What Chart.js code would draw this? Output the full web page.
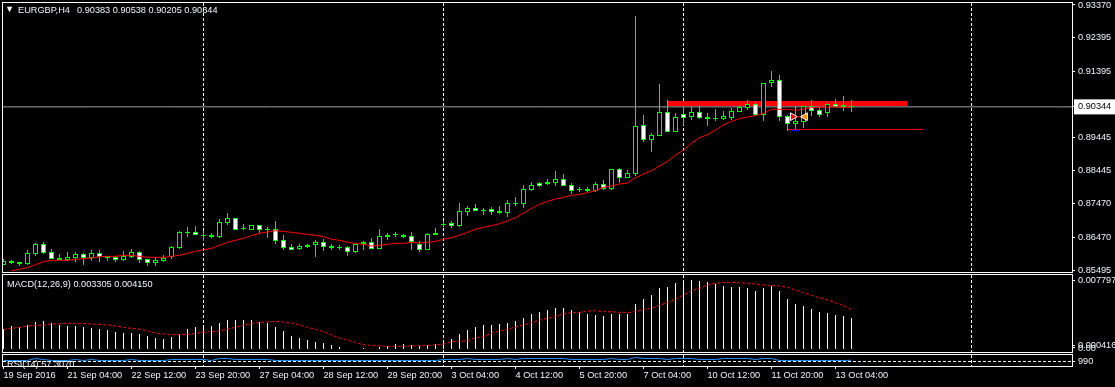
<!DOCTYPE html>
<html>
<head>
<meta charset="utf-8">
<title>EURGBP,H4</title>
<script src="https://cdn.jsdelivr.net/npm/chart.js@4/dist/chart.umd.min.js"></script>
<style>
    html, body { margin: 0; background: #000; overflow: hidden; }
    canvas { position: absolute; left: 0; }
</style>
</head>
<body>
<canvas id="mainChart" width="1115" height="273" style="top:0"></canvas>
<canvas id="macdChart" width="1115" height="80" style="top:273px"></canvas>
<canvas id="rsiChart" width="1115" height="47" style="top:340px"></canvas>
<script>
// EURGBP H4 candles, oldest first
const opens = [
    0.85657,0.85717,0.85677,0.85687,0.85984,0.86261,0.86024,0.85796,0.85796,0.85855,
    0.85964,0.85846,0.85994,0.85865,0.85895,0.85806,0.85895,0.86034,0.85826,0.85717,
    0.85776,0.85875,0.86152,0.86618,0.86618,0.86529,0.86479,0.86489,0.86905,0.87034,
    0.86717,0.86687,0.86826,0.86697,0.86707,0.86380,0.86172,0.86123,0.86182,0.86232,
    0.86321,0.86152,0.86172,0.86172,0.86034,0.86271,0.86321,0.86133,0.86489,0.86538,
    0.86489,0.86499,0.86271,0.86103,0.86548,0.86865,0.86885,0.86816,0.87231,0.87330,
    0.87271,0.87301,0.87192,0.87202,0.87469,0.87469,0.87875,0.88073,0.88053,0.88093,
    0.88192,0.88014,0.87865,0.87855,0.87855,0.88043,0.87915,0.88489,0.88241,0.88360,
    0.89796,0.89370,0.89489,0.90182,0.89607,0.90122,0.90033,0.90182,0.89984,0.89994,
    0.89994,0.90023,0.90202,0.90320,0.90419,0.90093,0.91043,0.91132,0.90063,0.89845,
    0.89904,0.90360,0.90241,0.90172,0.90419,0.90340,0.90383
];
const highs = [
    0.85816,0.85806,0.85727,0.86083,0.86311,0.86321,0.86113,0.85974,0.86034,0.86034,
    0.86004,0.86093,0.86093,0.85905,0.85915,0.86063,0.86123,0.86063,0.85826,0.85875,
    0.85944,0.86212,0.86657,0.86776,0.86806,0.86667,0.86598,0.87014,0.87192,0.87034,
    0.86865,0.86826,0.86826,0.86766,0.86954,0.86538,0.86261,0.86271,0.86271,0.86380,
    0.86420,0.86261,0.86232,0.86202,0.86261,0.86370,0.86449,0.86707,0.86588,0.86618,
    0.86578,0.86628,0.86370,0.86598,0.86736,0.86954,0.86944,0.87489,0.87390,0.87449,
    0.87340,0.87370,0.87400,0.87568,0.87667,0.88014,0.88103,0.88113,0.88202,0.88429,
    0.88350,0.88083,0.87964,0.87964,0.88113,0.88172,0.88489,0.88518,0.88459,0.93043,
    0.90103,0.89558,0.91023,0.90548,0.90152,0.90330,0.90330,0.90390,0.90152,0.90271,
    0.90211,0.90320,0.90390,0.90548,0.90479,0.91043,0.91409,0.91290,0.90103,0.90370,
    0.90360,0.90548,0.90350,0.90489,0.90578,0.90667,0.90538
];
const lows = [
    0.85657,0.85687,0.85618,0.85638,0.85915,0.85984,0.85816,0.85796,0.85776,0.85737,
    0.85647,0.85766,0.85737,0.85766,0.85737,0.85766,0.85865,0.85717,0.85618,0.85618,
    0.85747,0.85826,0.86123,0.86479,0.86538,0.86370,0.86440,0.86449,0.86835,0.86697,
    0.86687,0.86687,0.86588,0.86449,0.86271,0.86093,0.86093,0.86093,0.86152,0.85895,
    0.86073,0.86103,0.86103,0.85925,0.86014,0.86103,0.86133,0.86113,0.86390,0.86479,
    0.86449,0.86103,0.86044,0.86103,0.86548,0.86776,0.86746,0.86776,0.87103,0.87241,
    0.87142,0.87142,0.87172,0.87073,0.87400,0.87350,0.87835,0.87974,0.88014,0.88004,
    0.88004,0.87766,0.87816,0.87825,0.87825,0.87875,0.87875,0.88073,0.88241,0.88301,
    0.89301,0.89004,0.89489,0.89607,0.89607,0.89806,0.89954,0.89974,0.89776,0.89934,
    0.89954,0.89954,0.90202,0.90251,0.90063,0.89934,0.90944,0.89934,0.89637,0.89677,
    0.89716,0.90073,0.90053,0.90043,0.90350,0.90231,0.90205
];
const closes = [
    0.85756,0.85766,0.85727,0.85994,0.86261,0.86014,0.85836,0.85846,0.85875,0.85974,
    0.85846,0.85994,0.85875,0.85905,0.85806,0.85915,0.86024,0.85806,0.85717,0.85796,
    0.85855,0.86172,0.86618,0.86637,0.86548,0.86529,0.86538,0.86925,0.87034,0.86697,
    0.86737,0.86826,0.86697,0.86717,0.86370,0.86162,0.86103,0.86202,0.86232,0.86321,
    0.86192,0.86202,0.86172,0.86044,0.86261,0.86331,0.86133,0.86499,0.86538,0.86558,
    0.86538,0.86321,0.86103,0.86568,0.86588,0.86865,0.86816,0.87241,0.87330,0.87261,
    0.87271,0.87231,0.87251,0.87479,0.87489,0.87895,0.88014,0.88004,0.88113,0.88192,
    0.88004,0.87855,0.87915,0.87905,0.88043,0.87915,0.88489,0.88241,0.88370,0.89766,
    0.89370,0.89508,0.90182,0.89607,0.90033,0.90023,0.90182,0.90023,0.90043,0.90013,
    0.90063,0.90211,0.90330,0.90419,0.90093,0.91043,0.91132,0.90053,0.89845,0.89914,
    0.90360,0.90231,0.90112,0.90419,0.90350,0.90390,0.90344
];
// moving average, no value on the first bar
const maValues = [
    null,0.85479,0.85519,0.85568,0.85657,0.85747,0.85786,0.85786,0.85786,0.85816,
    0.85836,0.85855,0.85895,0.85905,0.85905,0.85935,0.85935,0.85905,0.85875,0.85875,
    0.85875,0.85905,0.85935,0.85994,0.86053,0.86103,0.86142,0.86232,0.86321,0.86380,
    0.86440,0.86519,0.86588,0.86628,0.86667,0.86647,0.86618,0.86588,0.86558,0.86529,
    0.86489,0.86410,0.86380,0.86321,0.86291,0.86261,0.86212,0.86232,0.86261,0.86291,
    0.86291,0.86321,0.86301,0.86321,0.86350,0.86410,0.86459,0.86529,0.86618,0.86707,
    0.86766,0.86816,0.86875,0.86954,0.87053,0.87192,0.87330,0.87449,0.87538,0.87608,
    0.87657,0.87717,0.87746,0.87796,0.87855,0.87954,0.87994,0.88053,0.88083,0.88241,
    0.88350,0.88449,0.88588,0.88726,0.88914,0.89063,0.89261,0.89429,0.89518,0.89657,
    0.89806,0.89914,0.89994,0.90043,0.90083,0.90152,0.90271,0.90271,0.90271,0.90241,
    0.90281,0.90320,0.90330,0.90340,0.90340,0.90330,0.90330
];
const macdHist = [
    0.002071,0.002422,0.002282,0.002527,0.002843,0.002948,0.002703,0.002562,0.002422,0.002422,
    0.002317,0.002211,0.002106,0.002001,0.001825,0.001685,0.001685,0.001580,0.001369,0.001193,
    0.001053,0.001264,0.001580,0.002106,0.002317,0.002527,0.002422,0.002738,0.003054,0.003054,
    0.003054,0.003054,0.002878,0.002738,0.002317,0.001895,0.001369,0.001158,0.000948,0.000737,
    0.000632,0.000421,0.000211,0,0,0.000140,0,0.000211,0.000281,0.000527,
    0.000527,0.000421,0.000316,0.000421,0.000527,0.000772,0.001053,0.001580,0.002001,0.002317,
    0.002527,0.002527,0.002633,0.002738,0.002948,0.003264,0.003686,0.003896,0.004107,0.004317,
    0.004317,0.004107,0.003896,0.003686,0.003580,0.003475,0.003686,0.003686,0.003686,0.004739,
    0.005265,0.005686,0.006423,0.006529,0.006950,0.007055,0.007266,0.007160,0.007055,0.006845,
    0.006634,0.006529,0.006529,0.006423,0.006107,0.006423,0.006634,0.006107,0.005265,0.004739,
    0.004528,0.004212,0.003896,0.003791,0.003580,0.003475,0.003305
];
const macdSignal = [
    0.002071,0.002176,0.002282,0.002422,0.002492,0.002527,0.002633,0.002668,0.002703,0.002703,
    0.002703,0.002633,0.002597,0.002527,0.002422,0.002282,0.002176,0.002106,0.001895,0.001685,
    0.001580,0.001509,0.001509,0.001544,0.001650,0.001755,0.001825,0.001895,0.002106,0.002282,
    0.002527,0.002703,0.002773,0.002878,0.002913,0.002843,0.002738,0.002527,0.002282,0.002071,
    0.001825,0.001474,0.001158,0.000948,0.000667,0.000456,0.000386,0.000351,0.000281,0.000281,
    0.000281,0.000316,0.000351,0.000386,0.000421,0.000527,0.000772,0.000807,0.000878,0.001193,
    0.001299,0.001650,0.001895,0.002071,0.002317,0.002527,0.002773,0.003054,0.003229,0.003405,
    0.003721,0.003826,0.003861,0.004001,0.004037,0.003931,0.003931,0.003861,0.003826,0.003931,
    0.004177,0.004282,0.004633,0.004879,0.005230,0.005686,0.006143,0.006388,0.006774,0.006915,
    0.007020,0.007020,0.006985,0.006915,0.006845,0.006739,0.006704,0.006634,0.006494,0.006213,
    0.005932,0.005651,0.005405,0.005160,0.004879,0.004598,0.004150
];
const rsiValues = [
    55,55,55,55,75,65,55,55,55,65,
    55,65,55,55,55,55,65,55,55,55,
    55,65,65,65,65,65,55,75,75,65,
    65,65,65,65,55,55,55,55,55,55,
    55,55,55,55,55,55,55,55,55,55,
    55,55,55,55,55,65,65,65,75,65,
    65,65,65,75,65,75,75,75,75,75,
    75,65,65,65,65,65,75,65,65,85,
    75,75,75,65,75,75,75,65,65,65,
    75,75,75,75,65,75,75,55,55,55,
    55,55,55,55,55,55,57.3
];

const priceTicks = [0.93370, 0.92395, 0.91395, 0.90344, 0.89445, 0.88445, 0.87470, 0.86470, 0.85495];
const lastPrice = 0.90344;
const macdTicks = [0.00717, 0.000416];
const macdTickLabels = ['0.007797', '0.000416'];
const rsiTicks = [180, 45];
const rsiTickLabels = ['0.00', '990'];
const rsiLevel = 45;

// bar index of the period separators
const separators = [25, 55, 85, 121];
const timeTickBars = [0, 8, 16, 24, 32, 40, 48, 56, 64, 72, 80, 88, 96, 104];
const timeTickLabels = ['19 Sep 2016', '21 Sep 04:00', '22 Sep 12:00', '23 Sep 20:00', '27 Sep 04:00', '28 Sep 12:00',
    '29 Sep 20:00', '3 Oct 04:00', '4 Oct 12:00', '5 Oct 20:00', '7 Oct 04:00', '10 Oct 12:00', '11 Oct 20:00', '13 Oct 04:00'];

// objects drawn on the price pane
const zoneBars = [83, 113];
const zonePrice = 0.90444;
const targetBars = [98, 115];
const targetPrice = 0.89672;
const stopBars = [98.5, 99.45];
const stopPrice = 0.89642;
const arrowPrice = 0.90052;
const buyArrowBar = 98.65;
const sellArrowBar = 100.2;

const TEXT_FONT = '9.2px "Liberation Sans"';
const TEXT_COLOR = '#f4f6ff';
const GREEN = '#00ff00';

const xMin = -0.0625;
const xMax = 133.5625;

function seriesPoints(values) {
    return values.map((v, i) => ({ x: i, y: v }));
}

function flatLine(bars, value) {
    return bars.map(b => ({ x: b, y: value }));
}

function overlayLine(data, color, width, order, dash) {
    return {
        type: 'line',
        data: data,
        borderColor: color,
        borderWidth: width,
        borderDash: dash || [],
        pointRadius: 0,
        tension: 0,
        order: order
    };
}

function noAxisPadding(scale) {
    scale.paddingTop = 0;
    scale.paddingBottom = 0;
    scale.paddingLeft = 0;
    scale.paddingRight = 0;
}

function separatorAxis() {
    return {
        type: 'linear',
        min: xMin,
        max: xMax,
        offset: false,
        grid: { color: '#fff', offset: false, drawTicks: false },
        border: { display: false, dash: [3, 2] },
        ticks: { display: false },
        afterBuildTicks: (scale) => { scale.ticks = separators.map(v => ({ value: v })); },
        afterFit: (scale) => { scale.height = 0; noAxisPadding(scale); }
    };
}

function rightAxis(min, max, values, labelFor, extra) {
    return Object.assign({
        position: 'right',
        min: min,
        max: max,
        grid: { drawOnChartArea: false, color: '#fff', tickLength: 3 },
        border: { display: false },
        ticks: {
            color: TEXT_COLOR,
            font: { family: 'Liberation Sans', size: 9.2 },
            padding: 3,
            autoSkip: false,
            callback: labelFor
        },
        afterBuildTicks: (scale) => { scale.ticks = values.map(v => ({ value: v })); },
        afterFit: (scale) => { scale.width = 43; noAxisPadding(scale); }
    }, extra || {});
}

// white frame round each pane
const paneFrame = {
    id: 'paneFrame',
    beforeDatasetsDraw(chart) {
        const { ctx, chartArea: a } = chart;
        ctx.save();
        ctx.strokeStyle = '#fff';
        ctx.lineWidth = 1;
        ctx.strokeRect(a.left - 0.5, a.top - 0.5, a.right - a.left + 1, a.bottom - a.top + 1);
        ctx.restore();
    }
};

// keep candle edges on whole pixels
const snapBars = {
    id: 'snapBars',
    afterDatasetsUpdate(chart) {
        chart.getSortedVisibleDatasetMetas().forEach(meta => {
            if (meta.type !== 'bar') return;
            meta.data.forEach(el => {
                if (el.skip) return;
                el.y = Math.round(el.y);
                el.base = Math.round(el.base);
                if (el.y === el.base && meta.controller.getDataset().candle) el.base = el.y + 1;
                el.height = el.base - el.y;
            });
        });
    }
};

function paneText(items) {
    return {
        id: 'paneText',
        beforeDatasetsDraw(chart) {
            const ctx = chart.ctx;
            ctx.save();
            ctx.font = TEXT_FONT;
            ctx.fillStyle = TEXT_COLOR;
            ctx.textBaseline = 'middle';
            items.forEach(t => ctx.fillText(t.text, t.x, t.y));
            ctx.restore();
        }
    };
}

const candleWicks = {
    type: 'bar',
    candle: true,
    data: highs.map((h, i) => ({ x: i, y: [lows[i], h] })),
    backgroundColor: GREEN,
    barThickness: 1,
    grouped: false,
    inflateAmount: 0,
    order: 5
};

const candleBodies = {
    type: 'bar',
    candle: true,
    data: opens.map((o, i) => ({ x: i, y: [o, closes[i]] })),
    backgroundColor: opens.map((o, i) => (closes[i] < o ? '#fff' : '#000')),
    borderColor: GREEN,
    borderWidth: 1,
    borderSkipped: false,
    barThickness: 5,
    grouped: false,
    inflateAmount: 0,
    order: 4
};

const baseOptions = {
    responsive: false,
    animation: false,
    events: [],
    plugins: { legend: { display: false }, tooltip: { enabled: false } }
};

new Chart(document.getElementById('mainChart'), {
    type: 'bar',
    data: {
        datasets: [
            overlayLine(flatLine([xMin, xMax], lastPrice), '#a0a0a0', 1, 10),
            overlayLine(flatLine(zoneBars, zonePrice), '#ff0000', 5, 9),
            overlayLine(flatLine(targetBars, targetPrice), '#ff0000', 1, 8),
            candleWicks,
            candleBodies,
            overlayLine(seriesPoints(maValues), '#ff0000', 1, 3),
            overlayLine(flatLine(stopBars, stopPrice), '#0000ff', 1.5, 2),
            overlayLine(flatLine([buyArrowBar, sellArrowBar], arrowPrice), '#ff0000', 1, 2),
            {
                type: 'scatter',
                data: [{ x: buyArrowBar, y: arrowPrice }],
                pointStyle: 'triangle',
                rotation: 90,
                pointRadius: 4.5,
                backgroundColor: '#ff0000',
                borderColor: '#fff',
                borderWidth: 1,
                order: 1
            },
            {
                type: 'scatter',
                data: [{ x: sellArrowBar, y: arrowPrice }],
                pointStyle: 'triangle',
                rotation: -90,
                pointRadius: 4.5,
                backgroundColor: '#ff8c00',
                borderColor: '#fff',
                borderWidth: 1,
                order: 1
            }
        ]
    },
    options: Object.assign({}, baseOptions, {
        layout: { autoPadding: false, padding: { left: 3, top: 3, bottom: 1 } },
        scales: {
            x: separatorAxis(),
            y: rightAxis(0.854396, 0.934289, priceTicks, (v) => v.toFixed(5), {})
        }
    }),
    plugins: [paneFrame, snapBars, paneText([
        { text: '\u25BC', x: 5, y: 9 },
        { text: 'EURGBP,H4', x: 18, y: 10 },
        { text: '0.90383 0.90538 0.90205 0.90344', x: 77, y: 10 }
    ])]
});

// price tag on the current price
(function () {
    const chart = Chart.getChart('mainChart');
    const t = chart.options.scales.y.ticks;
    t.color = (c) => (c.tick && c.tick.value === lastPrice ? '#000' : TEXT_COLOR);
    t.showLabelBackdrop = (c) => !!c.tick && c.tick.value === lastPrice;
    t.backdropColor = '#fff';
    t.backdropPadding = { left: 4, right: 12, top: 2, bottom: 2 };
    chart.update();
})();

new Chart(document.getElementById('macdChart'), {
    type: 'bar',
    data: {
        datasets: [
            {
                type: 'bar',
                data: seriesPoints(macdHist),
                backgroundColor: '#fff',
                barThickness: 1,
                grouped: false,
                inflateAmount: 0,
                order: 3
            },
            overlayLine(seriesPoints(macdSignal), '#ff0000', 1, 1, [3, 2])
        ]
    },
    options: Object.assign({}, baseOptions, {
        layout: { autoPadding: false, padding: { left: 3, top: 2, bottom: 1 } },
        scales: {
            x: separatorAxis(),
            y: rightAxis(-0.000316, 0.007797, macdTicks, (v, i) => macdTickLabels[i], {})
        }
    }),
    plugins: [paneFrame, snapBars, paneText([
        { text: 'MACD(12,26,9) 0.003305 0.004150', x: 7, y: 11 }
    ])]
});

new Chart(document.getElementById('rsiChart'), {
    type: 'bar',
    data: {
        datasets: [
            overlayLine(seriesPoints(rsiValues), '#1e90ff', 1, 2),
            overlayLine(flatLine([xMin, xMax], rsiLevel), '#fff', 1, 1, [3, 2])
        ]
    },
    options: Object.assign({}, baseOptions, {
        layout: { autoPadding: false, padding: { left: 3, top: 15 } },
        scales: {
            x: separatorAxis(),
            xTime: {
                type: 'linear',
                position: 'bottom',
                min: xMin,
                max: xMax,
                offset: false,
                grid: { drawOnChartArea: false, color: '#fff', tickLength: 3, offset: false },
                border: { display: false },
                ticks: {
                    color: TEXT_COLOR,
                    font: { family: 'Liberation Sans', size: 9.2 },
                    padding: 1,
                    align: 'start',
                    autoSkip: false,
                    maxRotation: 0,
                    callback: (v, i) => timeTickLabels[i]
                },
                afterBuildTicks: (scale) => { scale.ticks = timeTickBars.map(v => ({ value: v })); },
                afterFit: (scale) => { scale.height = 21; noAxisPadding(scale); }
            },
            y: rightAxis(0, 110, rsiTicks, (v, i) => rsiTickLabels[i], {})
        }
    }),
    plugins: [paneFrame, paneText([
        { text: 'RSI(14) 57.3070', x: 7, y: 24 }
    ])]
});
</script>
</body>
</html>
